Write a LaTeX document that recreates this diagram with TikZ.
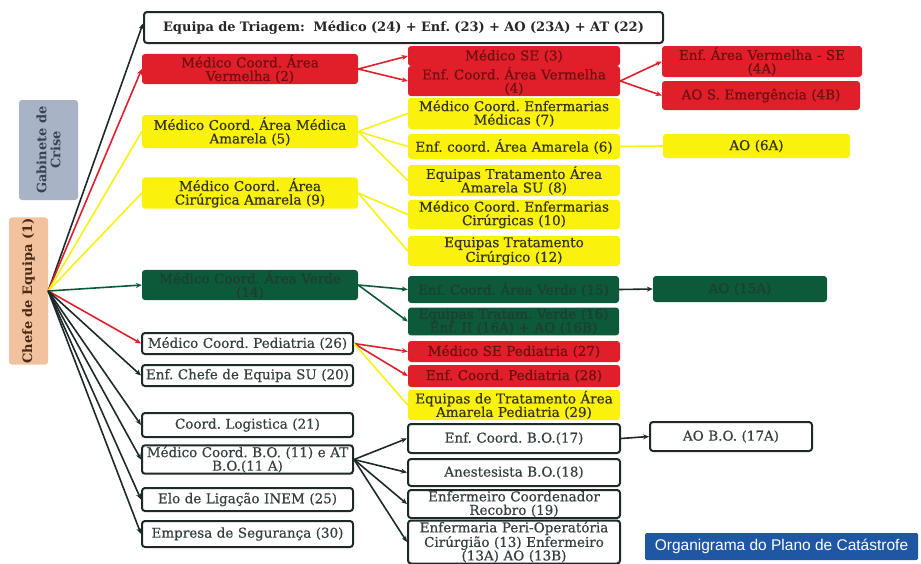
\documentclass[tikz,border=0pt]{standalone}
\usepackage{fontspec}
\setmainfont{DejaVu Serif}[UprightFeatures={FakeBold=0.5}]
\newfontfamily\orgfont{Liberation Sans}
\usetikzlibrary{arrows.meta}
\frenchspacing
\definecolor{redfill}{HTML}{E01F2B}
\definecolor{redtext}{HTML}{6E1010}
\definecolor{yelfill}{HTML}{FAF20C}
\definecolor{yeltext}{HTML}{34341A}
\definecolor{grnfill}{HTML}{0C5A3A}
\definecolor{grntext}{HTML}{1E3E30}
\definecolor{dark}{HTML}{1E2A2A}
\definecolor{gabfill}{HTML}{A9B3C6}
\definecolor{gabtext}{HTML}{3A4258}
\definecolor{chefill}{HTML}{F2C29E}
\definecolor{chetext}{HTML}{4A2A14}
\definecolor{orgfill}{HTML}{1F57A4}
\tikzset{
  base/.style={rounded corners=3pt, align=center, inner sep=1pt,
    font=\fontsize{13.5}{13.5}\selectfont},
  whitebox/.style={base, draw=dark, line width=2pt, fill=white, text=dark!90},
  redbox/.style={base, fill=redfill, text=redtext},
  yelbox/.style={base, fill=yelfill, text=yeltext},
  grnbox/.style={base, fill=grnfill, text=grntext},
  wh/.style n args={2}{minimum width=#1, minimum height=#2, text width=#1-4},
  arr/.style={line width=1.6pt, -{Stealth[length=6pt,width=5pt]}},
  plain/.style={line width=1.6pt},
}
\begin{document}
\begin{tikzpicture}[x=1pt,y=-1pt]
\useasboundingbox (0,0) rectangle (921,563);

% left column: side labels
\node[base, fill=gabfill, text=gabtext, minimum width=100, minimum height=59,
  rotate=90, font=\fontsize{13}{14}\selectfont\bfseries] (gab) at (48.5,150) {Gabinete de\\Crise};
\node[base, fill=chefill, text=chetext, minimum width=138, minimum height=39,
  rotate=90, font=\fontsize{13}{14}\selectfont\bfseries] (chefe) at (28.5,291) {Chefe de Equipa (1)};

% first level
\node[whitebox, wh={519}{31}, font=\fontsize{13}{13}\selectfont\bfseries, text=black!85] (triage) at (403.5,27.5)
  {Equipa de Triagem:~~Médico (24) + Enf. (23) + AO (23A) + AT (22)};
\node[redbox, wh={216}{28}] (v2) at (250,69) {Médico Coord. Área\\Vermelha (2)};
\node[yelbox, wh={216}{33}] (a5) at (250,131.5) {Médico Coord. Área Médica\\Amarela (5)};
\node[yelbox, wh={216}{28}] (c9) at (250,193) {Médico Coord.~~Área\\Cirúrgica Amarela (9)};
\node[grnbox, wh={216}{28}] (g14) at (250,285) {Médico Coord. Área Verde\\(14)};
\node[whitebox, wh={211}{21}] (p26) at (247.5,343.5) {Médico Coord. Pediatria (26)};
\node[whitebox, wh={211}{21}] (ec20) at (247.5,375.5) {Enf. Chefe de Equipa SU (20)};
\node[whitebox, wh={211}{24}] (log21) at (247.5,425) {Coord. Logistica (21)};
\node[whitebox, wh={211}{25}] (bo11) at (247.5,459.5) {Médico Coord. B.O. (11) e AT\\B.O.(11 A)};
\node[whitebox, wh={211}{23}] (elo25) at (247.5,499.5) {Elo de Ligação INEM (25)};
\node[whitebox, wh={211}{26}] (emp30) at (247.5,534) {Empresa de Segurança (30)};

% second level
\node[redbox, wh={212}{20}] (se3) at (514,56) {Médico SE (3)};
\node[redbox, wh={212}{26}] (e4) at (514,81) {Enf. Coord. Área Vermelha\\(4)};
\node[yelbox, wh={212}{31}] (m7) at (514,113.5) {Médico Coord. Enfermarias\\Médicas (7)};
\node[yelbox, wh={212}{25}] (e6) at (514,146.5) {Enf. coord. Área Amarela (6)};
\node[yelbox, wh={212}{31}] (eq8) at (514,180.5) {Equipas Tratamento Área\\Amarela SU (8)};
\node[yelbox, wh={212}{29}] (m10) at (514,214.5) {Médico Coord. Enfermarias\\Cirúrgicas (10)};
\node[yelbox, wh={212}{30}] (eq12) at (514,251) {Equipas Tratamento\\Cirúrgico (12)};
\node[grnbox, wh={211}{27}] (e15) at (513.5,289.5) {Enf. Coord. Área Verde (15)};
\node[grnbox, wh={211}{25}] (eq16) at (513.5,321.5) {Equipas Tratam. Verde (16)\\Enf. II (16A) + AO (16B)};
\node[redbox, wh={212}{21}] (se27) at (514,351.5) {Médico SE Pediatria (27)};
\node[redbox, wh={212}{22}] (ep28) at (514,376) {Enf. Coord. Pediatria (28)};
\node[yelbox, wh={212}{28}] (eq29) at (514,405) {Equipas de Tratamento Área\\Amarela Pediatria (29)};
\node[whitebox, wh={212}{29}] (e17) at (514,438.5) {Enf. Coord. B.O.(17)};
\node[whitebox, wh={212}{27}] (an18) at (514,472.5) {Anestesista B.O.(18)};
\node[whitebox, wh={212}{28}] (rec19) at (514,504) {Enfermeiro Coordenador\\Recobro (19)};
\node[whitebox, wh={212}{40}] (peri13) at (514,542) {Enfermaria Peri-Operatória\\Cirúrgião (13) Enfermeiro\\(13A) AO (13B)};

% third level
\node[redbox, wh={200}{31}] (r4A) at (762,61.5) {Enf. Área Vermelha - SE\\(4A)};
\node[redbox, wh={198}{29}] (r4B) at (761,95.5) {AO S. Emergência (4B)};
\node[yelbox, wh={187}{24}] (ao6A) at (756.5,146) {AO (6A)};
\node[grnbox, wh={174}{26}] (ao15A) at (740,289) {AO (15A)};
\node[whitebox, wh={162}{29}] (ao17A) at (731,436.5) {AO B.O. (17A)};

% title tag
\node[base, rounded corners=1.5pt, fill=orgfill, text=white, minimum width=273, minimum height=27,
  font=\orgfont\fontsize{15.5}{16}\selectfont] (org) at (781.5,546.5) {Organigrama do Plano de Catástrofe};

% connectors from the team chief
\coordinate (hub) at (chefe.south);
\draw[arr, dark] (hub) -- ([yshift=4]triage.west);
\draw[arr, redfill] (hub) -- (v2.west);
\draw[plain, yelfill] (hub) -- (a5.west);
\draw[plain, yelfill] (hub) -- (c9.west);
\draw[arr, grnfill] (hub) -- (g14.west);
\draw[arr, redfill] (hub) -- (p26.west);
\draw[arr, dark] (hub) -- (ec20.west);
\draw[arr, dark] (hub) -- (log21.west);
\draw[arr, dark] (hub) -- (bo11.west);
\draw[arr, dark] (hub) -- (elo25.west);
\draw[arr, dark] (hub) -- (emp30.west);

% red area
\draw[arr, redfill] (v2.east) -- (se3.west);
\draw[arr, redfill] (v2.east) -- (e4.west);
\draw[arr, redfill] (e4.east) -- (r4A.west);
\draw[arr, redfill] (e4.east) -- (r4B.west);

% yellow area
\draw[plain, yelfill] (a5.east) -- (m7.west);
\draw[plain, yelfill] (a5.east) -- (e6.west);
\draw[plain, yelfill] (a5.east) -- (eq8.west);
\draw[plain, yelfill] (e6.east) -- (ao6A.west);
\draw[plain, yelfill] (c9.east) -- (m10.west);
\draw[plain, yelfill] (c9.east) -- (eq12.west);

% green area
\draw[arr, grnfill] (g14.east) -- (e15.west);
\draw[arr, grnfill] (g14.east) -- (eq16.west);
\draw[arr, dark] (e15.east) -- (ao15A.west);

% paediatrics
\draw[arr, redfill] (p26.east) -- (se27.west);
\draw[arr, redfill] (p26.east) -- (ep28.west);
\draw[plain, yelfill] (p26.east) -- (eq29.west);

% operating block
\draw[arr, dark] (bo11.east) -- (e17.west);
\draw[arr, dark] (bo11.east) -- (an18.west);
\draw[arr, dark] (bo11.east) -- (rec19.west);
\draw[arr, dark] (bo11.east) -- (peri13.west);
\draw[arr, dark] (e17.east) -- (ao17A.west);
\end{tikzpicture}
\end{document}
